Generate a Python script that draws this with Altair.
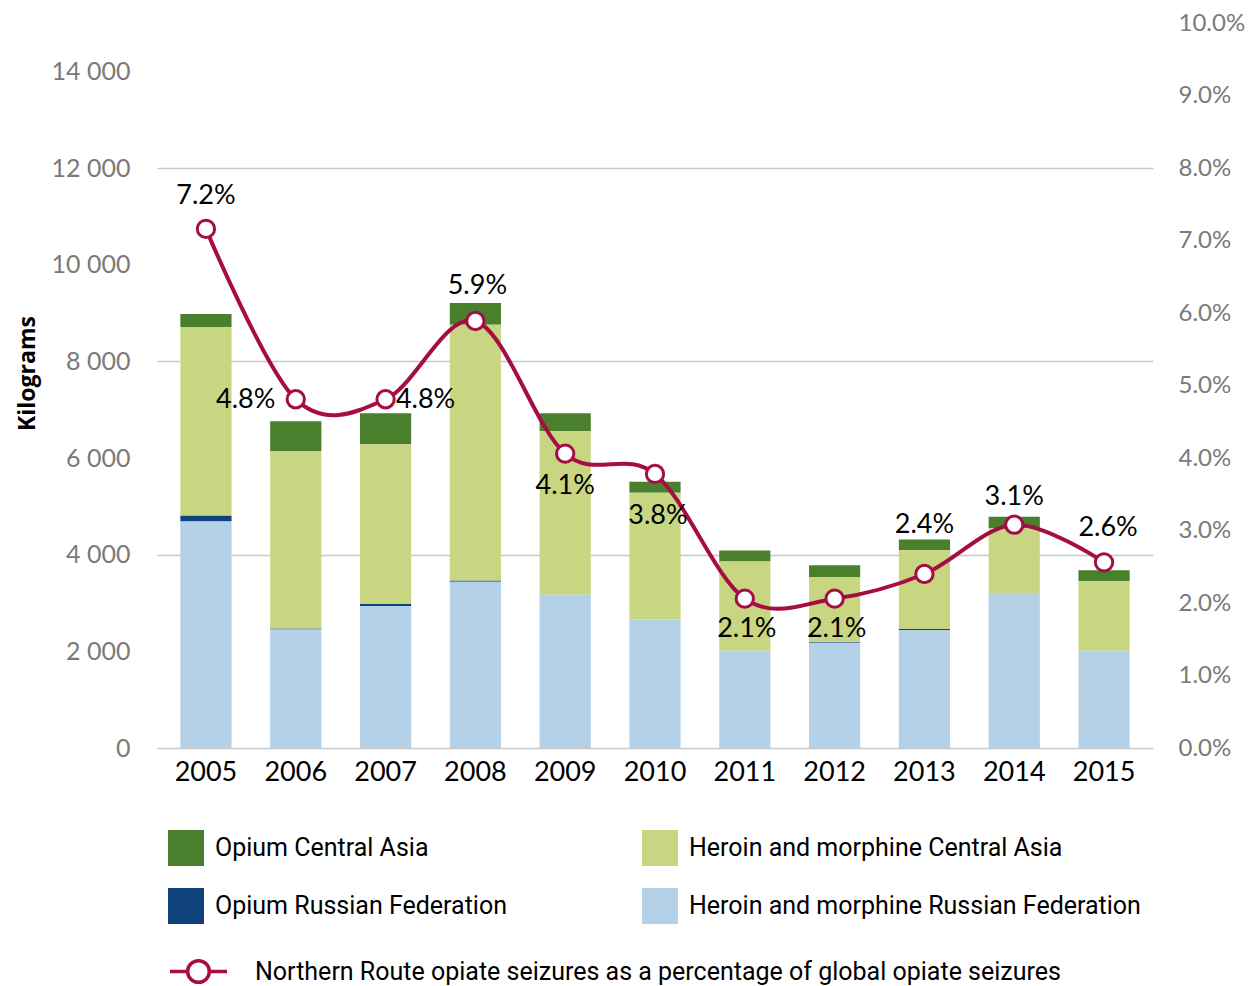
import altair as alt
import pandas as pd

years = ["2005", "2006", "2007", "2008", "2009", "2010", "2011", "2012", "2013", "2014", "2015"]
heroin_rf = [4685, 2450, 2940, 3440, 3170, 2657, 2010, 2180, 2440, 3205, 2014]
opium_rf = [123, 20, 40, 25, 0, 0, 0, 20, 20, 0, 0]
heroin_ca = [3904, 3673, 3307, 5290, 3384, 2623, 1850, 1340, 1630, 1342, 1438]
opium_ca = [267, 617, 637, 450, 370, 227, 226, 240, 226, 240, 226]
pct = [0.0716, 0.0481, 0.0481, 0.0589, 0.0406, 0.0378, 0.0206, 0.0206, 0.0240, 0.0308, 0.0256]

series_names = [
    "Opium Central Asia",
    "Opium Russian Federation",
    "Heroin and morphine Central Asia",
    "Heroin and morphine Russian Federation",
]
series_colors = ["#4a802d", "#10427e", "#c8d682", "#b4d1e8"]
stack_order = {  # bottom to top
    "Heroin and morphine Russian Federation": 0,
    "Opium Russian Federation": 1,
    "Heroin and morphine Central Asia": 2,
    "Opium Central Asia": 3,
}
line_name = "Northern Route opiate seizures as a percentage of global opiate seizures"

rows = []
for i, y in enumerate(years):
    for name, vals in zip(series_names, [opium_ca, opium_rf, heroin_ca, heroin_rf]):
        rows.append({"year": y, "series": name, "kg": vals[i], "ord": stack_order[name]})
bars_df = pd.DataFrame(rows)
line_df = pd.DataFrame({"year": years, "pct": pct, "name": [line_name] * len(years)})

W, H = 996, 725
x_enc = alt.X("year:N", title=None,
              scale=alt.Scale(paddingInner=0.43, paddingOuter=0.26),
              axis=alt.Axis(labelAngle=0, labelFontSize=27, labelFont="Lato", labelColor="black",
                            labelPadding=11, ticks=False, domain=False, grid=False))

bars = alt.Chart(bars_df).mark_bar().encode(
    x=x_enc,
    y=alt.Y("kg:Q", stack="zero",
            scale=alt.Scale(domain=[0, 15000], nice=False),
            axis=alt.Axis(values=list(range(0, 14001, 2000)),
                          labelExpr="replace(format(datum.value, ','), ',', ' ')",
                          grid=True,
                          gridColor=alt.condition("datum.value % 4000 === 0",
                                                  alt.value("#c8c8c8"), alt.value("rgba(0,0,0,0)")),
                          gridWidth=1.5,
                          domain=False, ticks=False, labelPadding=27,
                          labelFontSize=25, labelFont="Lato", labelColor="#7a7a7a",
                          title="Kilograms", titleFont="Open Sans", titleFontSize=23,
                          titleFontWeight="bold", titleColor="black", titlePadding=12,
                          titleY=350)),
    color=alt.Color("series:N",
                    scale=alt.Scale(domain=series_names, range=series_colors),
                    legend=alt.Legend(title=None, orient="none", legendX=11, legendY=807,
                                      columns=2, columnPadding=135, rowPadding=22,
                                      symbolType="square", symbolSize=1296, symbolStrokeWidth=0,
                                      symbolOpacity=1,
                                      labelFont="Roboto", labelFontSize=25, labelColor="black",
                                      labelOffset=11, labelLimit=1000)),
    order=alt.Order("ord:Q", sort="ascending"),
)

y_right = alt.Y("pct:Q", scale=alt.Scale(domain=[0, 0.1], nice=False),
                axis=alt.Axis(orient="right", format=".1%",
                              values=[0.0, 0.01, 0.02, 0.03, 0.04, 0.05, 0.06, 0.07, 0.08, 0.09, 0.1],
                              grid=False, domain=False, ticks=False, labelPadding=25,
                              labelFontSize=24, labelFont="Lato", labelColor="#7a7a7a", title=None))

base = alt.Chart(line_df).encode(x=alt.X("year:N"), y=y_right)

line = base.mark_line(interpolate="cardinal", tension=0, color="#a50d45", strokeWidth=4)

legend_path = ("M-1,0L-0.38,0M0.38,0L1,0M-0.38,0A0.38,0.38,0,1,1,0.38,0"
               "A0.38,0.38,0,1,1,-0.38,0Z")
points = base.mark_point(shape="circle", filled=True, fill="white", size=300,
                         strokeWidth=3, opacity=1).encode(
    stroke=alt.Stroke("name:N", scale=alt.Scale(range=["#a50d45"]),
                      legend=alt.Legend(title=None, orient="none", legendX=11, legendY=918,
                                        symbolType=legend_path, symbolSize=3249,
                                        symbolStrokeWidth=3.5, symbolFillColor="white",
                                        symbolStrokeColor="#a50d45",
                                        labelFont="Roboto", labelFontSize=25, labelColor="black",
                                        labelOffset=26, labelLimit=1200))
)

placements = [
    (["2005"], 0, -33),
    (["2008"], 2, -35),
    (["2013"], 0, -49),
    (["2014"], 0, -28),
    (["2015"], 4, -34),
    (["2009"], 0, 32),
    (["2010"], 3, 42),
    (["2011", "2012"], 2, 30),
    (["2006"], -50, 1),
    (["2007"], 40, 1),
]
labels = []
for yrs, dx, dy in placements:
    labels.append(
        base.transform_filter(alt.FieldOneOfPredicate(field="year", oneOf=yrs))
        .mark_text(dx=dx, dy=dy, fontSize=27, font="Lato", color="black", baseline="middle")
        .encode(text=alt.Text("pct:Q", format=".1%"))
    )

right_layer = alt.layer(line, points, *labels)

chart = alt.layer(bars, right_layer).resolve_scale(y="independent").properties(
    width=W, height=H, padding={"left": 8, "top": 3, "right": 5, "bottom": 5}
).configure_view(stroke=None)

chart.save("out.html", embed_options={"renderer": "svg", "actions": False})
